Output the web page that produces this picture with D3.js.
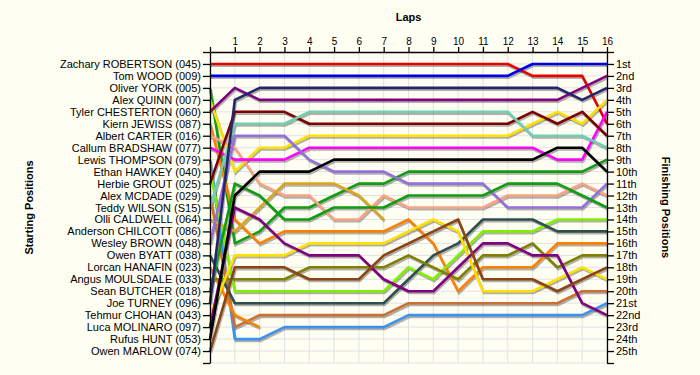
<!DOCTYPE html>
<html>
<head>
<meta charset="utf-8">
<script src="https://cdn.jsdelivr.net/npm/d3@7"></script>
<style>
  body { margin: 0; background: #fefef3; }
  svg { display: block; font-family: "Liberation Sans", Arial, sans-serif; }
</style>
</head>
<body>
<div id="chart"></div>
<script>
// starting grid, in order
const drivers = [
  "Zachary ROBERTSON (045)", "Tom WOOD (009)", "Oliver YORK (005)", "Alex QUINN (007)",
  "Tyler CHESTERTON (060)", "Kiern JEWISS (087)", "Albert CARTER (016)", "Callum BRADSHAW (077)",
  "Lewis THOMPSON (079)", "Ethan HAWKEY (040)", "Herbie GROUT (025)", "Alex MCDADE (029)",
  "Teddy WILSON (S15)", "Olli CALDWELL (064)", "Anderson CHILCOTT (086)", "Wesley BROWN (048)",
  "Owen BYATT (038)", "Lorcan HANAFIN (023)", "Angus MOULSDALE (033)", "Sean BUTCHER (018)",
  "Joe TURNEY (096)", "Tehmur CHOHAN (043)", "Luca MOLINARO (097)", "Rufus HUNT (053)",
  "Owen MARLOW (074)"
];

const finishLabels = ["1st","2nd","3rd","4th","5th","6th","7th","8th","9th","10th","11th","12th","13th",
  "14th","15th","16th","17th","18th","19th","20th","21st","22nd","23rd","24th","25th"];

const driverColors = [
  "#e60000", "#0000e6", "#119c11", "#ffe000", "#800080", "#ff8000", "#f9a385", "#ff00ff",
  "#3a92ee", "#80f000", "#800000", "#cc6f35", "#6fcfae", "#daa520", "#888888", "#9370db",
  "#2f4f4f", "#ff8000", "#808000", "#119c11", "#25256e", "#ffe000", "#800080", "#000000",
  "#8b4513"
];

// position of each driver at lap 0..16 (shorter arrays = retired)
const lapPositions = [
  [1,1,1,1,1,1,1,1,1,1,1,1,1,2,2,2,6],
  [2,2,2,2,2,2,2,2,2,2,2,2,2,1,1,1,1],
  [3,16,15,13,13,12,11,11,10,10,10,10,10,10,10,10,9],
  [4,10,8,8,7,7,7,7,7,7,7,7,7,6,5,6,4],
  [5,3,4,4,4,4,4,4,4,4,4,4,4,4,4,3,2],
  [6,14,16,15,15,15,15,15,14,16,20,18,18,18,16,16,16],
  [7,8,11,12,12,14,14,12,13,13,13,13,12,12,12,11,12],
  [8,9,9,9,8,8,8,8,8,8,8,8,8,8,9,9,5],
  [9,24,24,23,23,23,23,23,22,22,22,22,22,22,22,22,21],
  [10,20,20,20,20,20,20,20,18,19,17,15,15,15,14,14,14],
  [11,5,5,5,6,6,6,6,6,6,6,6,6,5,6,5,7],
  [12,23,22,22,22,22,22,22,21,21,21,21,21,21,21,20,20],
  [13,6,6,6,5,5,5,5,5,5,5,5,5,7,7,7,8],
  [14,15,13,11,11,11,12,14],
  [15],
  [16,7,7,7,9,10,10,10,11,11,11,11,13,13,13,13,11],
  [17,21,21,21,21,21,21,21,19,17,16,14,14,14,15,15,15],
  [18,22,23],
  [19,19,19,19,18,18,18,18,17,18,19,17,17,16,18,17,17],
  [20,11,12,14,14,13,13,13,12,12,12,12,11,11,11,12,13],
  [21,4,3,3,3,3,3,3,3,3,3,3,3,3,3,4,3],
  [22,17,17,17,16,16,16,16,15,14,15,20,20,20,19,18,19],
  [23,13,14,16,17,17,17,19,20,20,18,16,16,17,17,21,22],
  [24,12,10,10,10,9,9,9,9,9,9,9,9,9,8,8,10],
  [25,18,18,18,19,19,19,17,16,15,14,19,19,19,20,19,18]
];

const laps = d3.range(0, 17);

const width = 700, height = 375;
const svg = d3.select("#chart").append("svg")
  .attr("width", width)
  .attr("height", height);

svg.append("rect").attr("width", width).attr("height", height).attr("fill", "#fefef3");

const x = d3.scaleLinear().domain([0, 16]).range([210, 607]);
const y = d3.scaleLinear().domain([0, 26]).range([52, 363]);

// grid
svg.append("g").selectAll("line.v")
  .data(laps)
  .enter().append("line")
  .attr("x1", d => x(d)).attr("x2", d => x(d))
  .attr("y1", y(0)).attr("y2", y(26))
  .attr("stroke", "#e2e2e2");

svg.append("g").selectAll("line.h")
  .data(d3.range(1, 27))
  .enter().append("line")
  .attr("x1", x(0)).attr("x2", x(16))
  .attr("y1", d => y(d)).attr("y2", d => y(d))
  .attr("stroke", "#e2e2e2");

const line = d3.line()
  .x((d, i) => x(i))
  .y(d => y(d));

const series = lapPositions.map((p, i) => ({ pos: p, color: driverColors[i] }))
  .filter(d => d.pos.length > 1);

// shadows
svg.append("g")
  .attr("transform", "translate(1,1.8)")
  .selectAll("path")
  .data(series)
  .enter().append("path")
  .attr("d", d => line(d.pos))
  .attr("fill", "none")
  .attr("stroke", "rgba(0,0,0,0.3)")
  .attr("stroke-width", 2.6);

svg.append("g")
  .selectAll("path")
  .data(series)
  .enter().append("path")
  .attr("d", d => line(d.pos))
  .attr("fill", "none")
  .attr("stroke", d => d.color)
  .attr("stroke-width", 2.6)
  .attr("stroke-linejoin", "round");

// axes
const topAxis = svg.append("g")
  .attr("transform", `translate(0,${y(0)})`)
  .call(d3.axisTop(x).tickValues(laps).tickSize(5).tickSizeOuter(0)
    .tickFormat(d => d === 0 ? "" : d));

const leftAxis = svg.append("g")
  .attr("transform", `translate(${x(0)},0)`)
  .call(d3.axisLeft(y).tickValues(d3.range(0, 27)).tickSize(7).tickSizeOuter(0)
    .tickFormat(d => drivers[d - 1] || ""));

const rightAxis = svg.append("g")
  .attr("transform", `translate(${x(16)},0)`)
  .call(d3.axisRight(y).tickValues(d3.range(0, 27)).tickSize(7).tickSizeOuter(0)
    .tickFormat(d => finishLabels[d - 1] || ""));

[topAxis, leftAxis, rightAxis].forEach(a => {
  a.selectAll("path, line").attr("stroke", "#000").attr("stroke-width", 1.3);
  a.selectAll("text").attr("fill", "#000").style("font-family", "'Liberation Sans', Arial, sans-serif");
});
topAxis.selectAll("text").style("font-size", "10px").attr("y", -7);
leftAxis.selectAll("text").style("font-size", "11px").attr("x", -9);
rightAxis.selectAll("text").style("font-size", "11px").attr("x", 9);

// titles
svg.append("text")
  .attr("x", (x(0) + x(16)) / 2)
  .attr("y", 21)
  .attr("text-anchor", "middle")
  .style("font-size", "11px")
  .style("font-weight", "bold")
  .text("Laps");

svg.append("text")
  .attr("transform", `translate(33,${(y(0) + y(26)) / 2}) rotate(-90)`)
  .attr("text-anchor", "middle")
  .style("font-size", "11px")
  .style("font-weight", "bold")
  .text("Starting Positions");

svg.append("text")
  .attr("transform", `translate(662,${(y(0) + y(26)) / 2}) rotate(90)`)
  .attr("text-anchor", "middle")
  .style("font-size", "11px")
  .style("font-weight", "bold")
  .text("Finishing Positions");
</script>
</body>
</html>
